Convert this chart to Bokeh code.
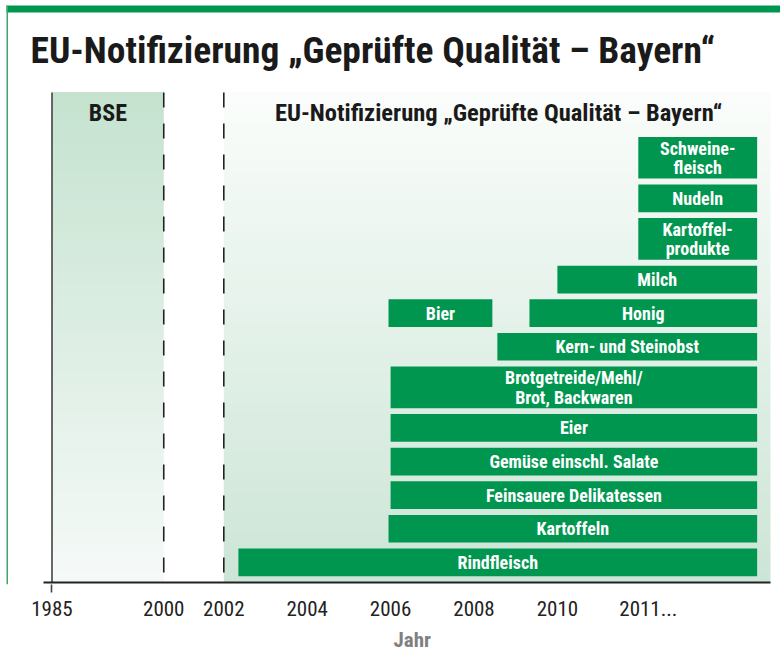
import numpy as np
from bokeh.plotting import figure
from bokeh.models import Range1d, FixedTicker, ColumnDataSource, Title
from bokeh.core.properties import value
from bokeh.embed import file_html
from bokeh.resources import INLINE

# ---------------- data ----------------
tick_pos = [1997.88, 2000.56, 2002, 2004, 2006, 2008, 2010, 2012.18]
tick_labels = ["1985", "2000", "2002", "2004", "2006", "2008", "2010", "2011..."]

products = ["Rindfleisch", "Kartoffeln", "Feinsauere Delikatessen",
            "Gemüse einschl. Salate", "Eier", "Brotgetreide/Mehl/\nBrot, Backwaren",
            "Kern- und Steinobst", "Bier", "Honig", "Milch",
            "Kartoffel-\nprodukte", "Nudeln", "Schweine-\nfleisch"]
start_year = [2002.35, 2005.95, 2006.0, 2006.0, 2006.0, 2006.0,
              2008.56, 2005.95, 2009.33, 2010.0, 2011.94, 2011.94, 2011.94]
end_year = [2014.79, 2014.79, 2014.79, 2014.79, 2014.79, 2014.79,
            2014.79, 2008.44, 2014.79, 2014.79, 2014.79, 2014.79, 2014.79]
row = [0, 1, 2, 3, 4, 5, 6, 7, 7, 8, 9, 10, 11]

bse_start, bse_end = 1997.88, 2000.56
notif_start, notif_end = 2002.0, 2015.11

title = "EU-Notifizierung „Geprüfte Qualität – Bayern“"
x_label = "Jahr"

# ---------------- styling ----------------
GREEN = "#009650"
FONT = "'Roboto Condensed', 'DejaVu Sans Condensed', 'Liberation Sans Narrow', sans-serif"
PX_PER_YEAR = 41.7
X0 = 2002 - 223.3 / PX_PER_YEAR
X1 = 2002 + 556.7 / PX_PER_YEAR
TOP = 490          # top of the chart area (y units = px above axis)
H1, H2, GAP, BASE = 27.7, 41.7, 5.9, 6.3

# row layout computed from label line counts
n_rows = max(row) + 1
lines = [1] * n_rows
for r, name in zip(row, products):
    lines[r] = max(lines[r], name.count("\n") + 1)
row_bottom, row_top = [], []
cur = BASE
for r in range(n_rows):
    h = H1 if lines[r] == 1 else H2
    row_bottom.append(cur)
    row_top.append(cur + h)
    cur += h + GAP

src = ColumnDataSource(dict(
    left=start_year, right=end_year,
    bottom=[row_bottom[r] for r in row], top=[row_top[r] for r in row],
    xc=[(a + b) / 2 for a, b in zip(start_year, end_year)],
    yc=[(row_bottom[r] + row_top[r]) / 2 for r in row],
    name=products,
))

p = figure(width=780, height=670, x_range=Range1d(X0, X1), y_range=Range1d(-2, 582),
           output_backend="svg", toolbar_location=None, y_axis_location=None,
           min_border_left=0, min_border_right=0, min_border_top=0, min_border_bottom=86)
p.grid.visible = False
p.outline_line_color = None
p.background_fill_color = "white"
p.border_fill_color = "white"


def hex2rgb(h):
    return np.array([int(h[i:i + 2], 16) for i in (1, 3, 5)], dtype=float)


def gradient(x0, x1, c_top, c_bot, n=49):
    edges = np.linspace(0, TOP, n + 1)
    ct, cb = hex2rgb(c_top), hex2rgb(c_bot)
    cols = []
    for i in range(n):
        t = (edges[i] + edges[i + 1]) / 2 / TOP
        c = cb + (ct - cb) * t
        cols.append("#%02x%02x%02x" % tuple(int(round(v)) for v in c))
    p.quad(left=x0, right=x1, bottom=edges[:-1], top=edges[1:] + 0.5,
           fill_color=cols, line_color=None)


gradient(bse_start, bse_end, "#c4e2cf", "#f6faf8")
gradient(notif_start, notif_end, "#fafdfb", "#cce5d6")

# vertical lines
p.segment(x0=[bse_start], y0=[TOP], x1=[bse_start], y1=[0], line_color="#444444", line_width=1.6)
p.segment(x0=[bse_end, notif_start], y0=[TOP, TOP], x1=[bse_end, notif_start], y1=[0, 0],
          line_color="#222222", line_width=1.6, line_dash="15 16")

# bars
p.quad(left="left", right="right", bottom="bottom", top="top", source=src,
       fill_color=GREEN, line_color=None)
p.text(x="xc", y="yc", text="name", source=src, text_color="white",
       text_font=value(FONT), text_font_style="bold", text_font_size="18px",
       text_align="center", text_baseline="middle", text_line_height=0.92)

# axis line
p.segment(x0=[2002 - 180.3 / PX_PER_YEAR], y0=[0], x1=[notif_end], y1=[0],
          line_color="#222222", line_width=2)

# headers
p.text(x=[(bse_start + bse_end) / 2], y=[470], text=["BSE"], text_color="#1a1a1a",
       text_font=value(FONT), text_font_style="bold", text_font_size="24px",
       text_align="center", text_baseline="middle")
p.text(x=[2008.59], y=[470], text=[title], text_color="#1a1a1a",
       text_font=value(FONT), text_font_style="bold", text_font_size="24.5px",
       text_align="center", text_baseline="middle")

# main title
p.text(x=[2002 - 193.3 / PX_PER_YEAR], y=[533], text=[title], text_color="#1a1a1a",
       text_font=value(FONT), text_font_style="bold", text_font_size="37.5px",
       text_align="left", text_baseline="middle")

# frame decorations
p.quad(left=[2002 - 217.3 / PX_PER_YEAR], right=[X1], bottom=[570], top=[577],
       fill_color=GREEN, line_color=None)
p.quad(left=[2002 - 217.3 / PX_PER_YEAR], right=[2002 - 215.8 / PX_PER_YEAR], bottom=[-2], top=[577],
       fill_color="#3aa86a", line_color=None)

# x axis
ax = p.xaxis[0]
ax.ticker = FixedTicker(ticks=tick_pos, minor_ticks=[bse_start])
ax.major_label_overrides = {t: l for t, l in zip(tick_pos, tick_labels)}
ax.axis_line_color = None
ax.major_tick_line_color = None
ax.major_tick_out = 0
ax.major_tick_in = 0
ax.minor_tick_line_color = "#444444"
ax.minor_tick_line_width = 1.6
ax.minor_tick_out = 8
ax.minor_tick_in = 0
ax.major_label_standoff = 8
ax.major_label_text_font = FONT
ax.major_label_text_font_size = "21px"
ax.major_label_text_color = "#222222"

p.add_layout(Title(text=x_label, align="left", offset=393, standoff=15,
                   text_font=FONT, text_font_style="bold", text_font_size="21px",
                   text_color="#7f7f7f"), "below")

open("out.html", "w").write(file_html(p, INLINE))
